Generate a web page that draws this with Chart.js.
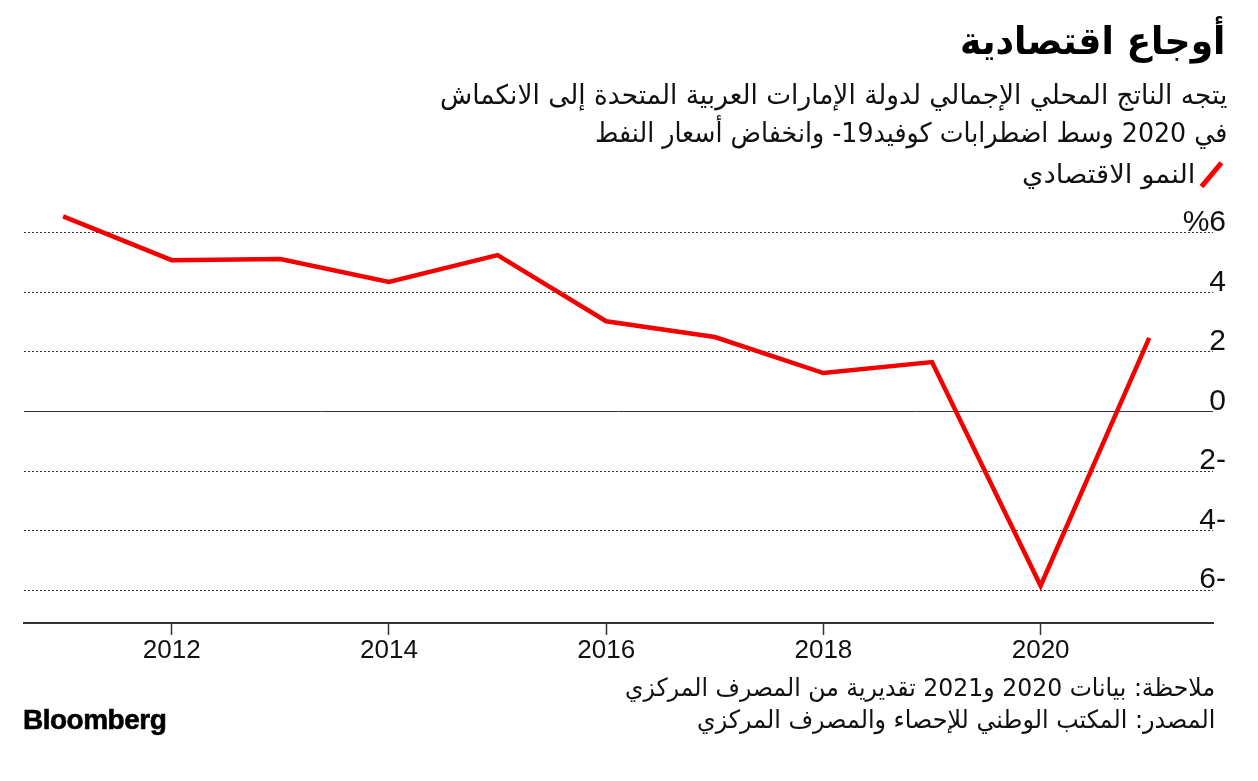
<!DOCTYPE html>
<html lang="ar">
<head>
<meta charset="utf-8">
<script src="https://cdn.jsdelivr.net/npm/chart.js@4"></script>
<style>
html,body{margin:0;padding:0;background:#fff;width:1258px;height:781px;overflow:hidden;}
#wrap{position:relative;width:1258px;height:781px;}
canvas{position:absolute;left:0;top:0;}
.t{position:absolute;white-space:nowrap;direction:rtl;font-family:"DejaVu Sans",sans-serif;color:#111;line-height:1;transform-origin:100% 50%;}
#logo{position:absolute;left:23px;top:706px;font-family:"Liberation Sans",Arial,sans-serif;font-weight:bold;font-size:28px;letter-spacing:-0.5px;color:#000;line-height:1;-webkit-text-stroke:0.6px #000;}
#slash{position:absolute;left:1209px;top:159px;width:4.5px;height:31px;background:#f00;transform:rotate(40deg);}
</style>
</head>
<body>
<div id="wrap">
<canvas id="c" width="1258" height="781"></canvas>
<div class="t" id="title" data-w="265" style="right:33px;top:22px;font-size:38px;font-weight:bold;color:#000;">أوجاع اقتصادية</div>
<div class="t" data-w="787" style="right:31px;top:81px;font-size:27px;">يتجه الناتج المحلي الإجمالي لدولة الإمارات العربية المتحدة إلى الانكماش</div>
<div class="t" data-w="632" style="right:31px;top:119px;font-size:27px;">في 2020 وسط اضطرابات كوفيد19- وانخفاض أسعار النفط</div>
<div class="t" id="legtext" data-w="173" style="right:63px;top:161px;font-size:26px;">النمو الاقتصادي</div>
<div id="slash"></div>
<div class="t" data-w="590" style="right:43px;top:675px;font-size:25px;">ملاحظة: بيانات 2020 و2021 تقديرية من المصرف المركزي</div>
<div class="t" data-w="518" style="right:43px;top:707px;font-size:25px;">المصدر: المكتب الوطني للإحصاء والمصرف المركزي</div>
<div id="logo">Bloomberg</div>
</div>
<script>
// ---- data ----
const years = [2011, 2012, 2013, 2014, 2015, 2016, 2017, 2018, 2019, 2020, 2021];
const growth = [6.55, 5.08, 5.12, 4.35, 5.25, 3.03, 2.5, 1.29, 1.66, -5.85, 2.47];
const yTickValues = [-6, -4, -2, 0, 2, 4, 6];
const yTickLabels = ['6-', '4-', '2-', '0', '2', '4', '%6'];
const xTickValues = [2012, 2014, 2016, 2018, 2020];
const seriesName = 'النمو الاقتصادي';

// ---- text width fitting ----
function fitTexts(){
  document.querySelectorAll('.t[data-w]').forEach(el=>{
    el.style.transform='none';
    const w = el.offsetWidth;
    const target = +el.dataset.w;
    if (w>0) el.style.transform = 'scaleX(' + (target/w) + ')';
  });
}

const points = years.map((yr,i)=>({x:yr, y:growth[i]}));

new Chart(document.getElementById('c').getContext('2d'), {
  type:'line',
  data:{datasets:[{
    label:seriesName,
    data:points,
    borderColor:'#f50000',
    borderWidth:4.5,
    pointRadius:0,
    tension:0,
    fill:false
  }]},
  options:{
    responsive:false,
    animation:false,
    devicePixelRatio:1,
    layout:{padding:{left:24,right:45,top:203,bottom:108}},
    plugins:{legend:{display:false},tooltip:{enabled:false}},
    scales:{
      x:{
        type:'linear',
        min:2010.64, max:2021.587,
        afterBuildTicks:s=>{ s.ticks = xTickValues.map(v=>({value:v})); },
        afterFit:s=>{ s.height = 50; },
        grid:{drawOnChartArea:false, drawTicks:true, tickLength:12, tickColor:'#333', tickWidth:1.5},
        border:{display:true, color:'#333', width:2},
        ticks:{padding:0, color:'#111', maxRotation:0, autoSkip:false,
          font:{family:'"Liberation Sans", Arial, sans-serif', size:26},
          callback:v=>String(v)}
      },
      y:{
        position:'right',
        min:-7.1, max:7,
        afterBuildTicks:s=>{ s.ticks = yTickValues.map(v=>({value:v})); },
        afterFit:s=>{ s.width = 0; },
        grid:{drawTicks:false, lineWidth:1,
          color:ctx=>(ctx.tick && ctx.tick.value===0)?'#333':'#333'},
        border:{display:false,
          dash:ctx=>(ctx.tick && ctx.tick.value===0)?[]:[2,2]},
        ticks:{mirror:true, padding:13, labelOffset:-10, color:'#111', autoSkip:false,
          font:{family:'"Liberation Sans", Arial, sans-serif', size:30},
          callback:v=>{ const i = yTickValues.indexOf(v); return i>=0 ? yTickLabels[i] : ''; }}
      }
    }
  }
});

fitTexts();
if (document.fonts && document.fonts.ready) document.fonts.ready.then(fitTexts);
</script>
</body>
</html>
